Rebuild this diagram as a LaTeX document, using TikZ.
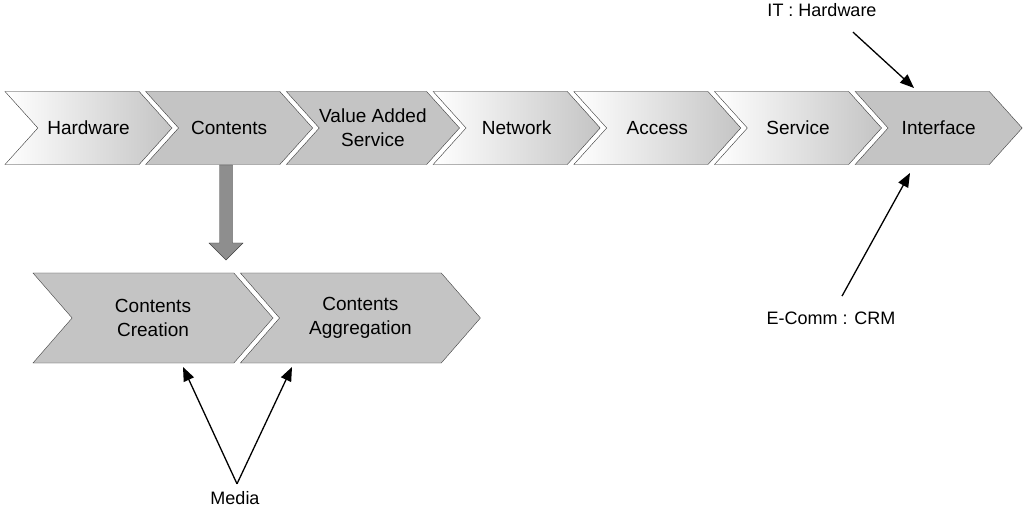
\documentclass[tikz,border=0pt]{standalone}
\usepackage{fontspec}
\setmainfont{Liberation Sans}
\usetikzlibrary{arrows.meta, positioning, shapes.symbols}
\definecolor{cgray}{HTML}{C4C4C4}
\definecolor{dgray}{HTML}{8E8E8E}

\begin{document}
\begin{tikzpicture}[x=1pt, y=-1pt,
    chev/.style={signal, signal from=west, signal to=east, signal pointer angle=96,
                 draw=black!75, fill=cgray, minimum width=167pt, minimum height=73pt,
                 inner sep=0pt, align=center, font=\fontsize{19}{24}\selectfont},
    chevg/.style={chev, left color=white, right color=cgray},
    subchev/.style={chev, minimum width=240pt, minimum height=90pt, signal pointer angle=98},
    arr/.style={-{Triangle[length=14pt, width=11pt]}, line width=1.3pt},
    lbl/.style={font=\fontsize{18}{20}\selectfont}]

    \useasboundingbox (0,0) rectangle (1024,510);

    % value chain
    \node[chevg] (hw) at (88.5,128) {Hardware};
    \node[chev,  right=6pt of hw] (ct) {Contents};
    \node[chev,  right=6pt of ct] (vas) {Value Added\\Service};
    \node[chevg, right=6pt of vas] (nw) {Network};
    \node[chevg, right=6pt of nw] (ac) {Access};
    \node[chevg, right=6pt of ac] (sv) {Service};
    \node[chev,  right=6pt of sv] (ifc) {Interface};

    % contents split
    \draw[fill=dgray, draw=black!75] (219.5,165) -- (232.5,165) -- (232.5,243)
        -- (243,243) -- (226,260) -- (209,243) -- (219.5,243) -- cycle;
    \node[subchev] (cc) at (153,318) {Contents\\Creation};
    \node[subchev, right=6pt of cc] (ca) {Contents\\Aggregation};

    % labels
    \node[lbl] (it) at (822,10) {IT : Hardware};
    \node[lbl] (ec) at (831,318) {E-Comm : CRM};
    \node[lbl] (md) at (235,498) {Media};

    \coordinate (ithit) at (914,88);
    \coordinate (echit) at (910,173);
    \coordinate (cchit) at (183,367);
    \coordinate (cahit) at (292,367);

    \draw[arr] ([xshift=31pt, yshift=-12pt]it.south) -- (ithit);
    \draw[arr] ([xshift=11pt, yshift=12pt]ec.north) -- (echit);
    \draw[arr] ([xshift=2pt, yshift=4pt]md.north) -- (cchit);
    \draw[arr] ([xshift=2pt, yshift=4pt]md.north) -- (cahit);
\end{tikzpicture}
\end{document}
